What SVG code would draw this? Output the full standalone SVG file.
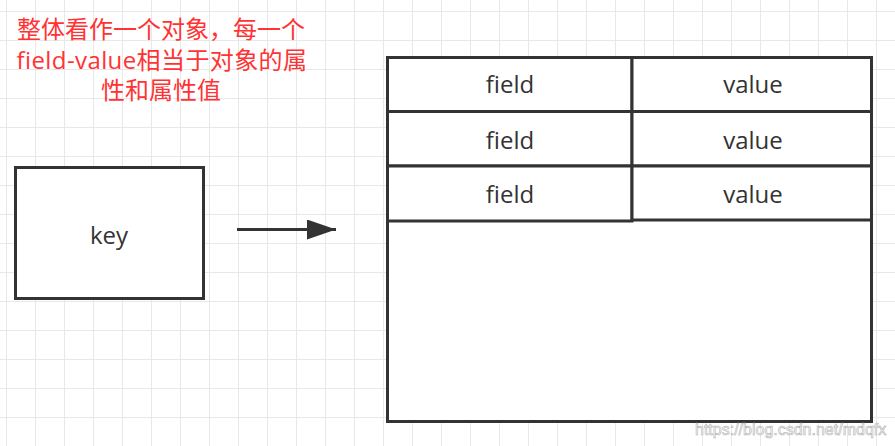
<svg xmlns="http://www.w3.org/2000/svg" width="895" height="446" viewBox="0 0 895 446">
<style>
.box{fill:#fff;stroke:#333;stroke-width:3}
.lbl{font-family:"Open Sans","Noto Sans CJK SC",sans-serif;font-size:24px;fill:#333;text-anchor:middle}
.note{font-family:"Open Sans","Noto Sans CJK SC",sans-serif;font-size:24px;fill:#ff3333;text-anchor:middle}
.wm{font-family:"Liberation Sans",sans-serif;font-size:16px;fill:#fff;stroke:#b0b0b0;stroke-width:0.6}
</style>
<defs>
<pattern id="grid" patternUnits="userSpaceOnUse" x="6" y="11" width="29" height="29">
<path d="M0 0.5H29M0.5 0V29" fill="none" stroke="#e8e8e8" stroke-width="1"/>
</pattern>
<marker id="arrow" markerUnits="userSpaceOnUse" markerWidth="30" markerHeight="22" refX="29" refY="10" orient="auto">
<path d="M0 0L29 10L0 20Z" fill="#333"/>
</marker>
</defs>
<rect width="895" height="446" fill="#fff"/>
<rect width="895" height="446" fill="url(#grid)"/>
<g id="note">
<text class="note" x="161" y="38">整体看作一个对象，每一个</text>
<text class="note" x="162" y="68.5" letter-spacing="0.4">field-value相当于对象的属</text>
<text class="note" x="161" y="99">性和属性值</text>
</g>
<g id="key">
<rect class="box" x="15.5" y="167.5" width="188" height="131"/>
<text class="lbl" x="109" y="244">key</text>
</g>
<g id="hash">
<rect class="box" x="387.5" y="57.5" width="484" height="364"/>
</g>
<g id="field1">
<rect class="box" x="387.5" y="57.5" width="244.5" height="54"/>
<text class="lbl" x="510" y="93">field</text>
</g>
<g id="value1">
<rect class="box" x="632" y="57.5" width="239.5" height="54"/>
<text class="lbl" x="753" y="93">value</text>
</g>
<g id="field2">
<rect class="box" x="387.5" y="111.5" width="244.5" height="54.5"/>
<text class="lbl" x="510" y="149">field</text>
</g>
<g id="value2">
<rect class="box" x="632" y="111.5" width="239.5" height="54.5"/>
<text class="lbl" x="753" y="149">value</text>
</g>
<g id="field3">
<rect class="box" x="387.5" y="166" width="244.5" height="55"/>
<text class="lbl" x="510" y="203">field</text>
</g>
<g id="value3">
<rect class="box" x="632" y="166" width="239.5" height="54"/>
<text class="lbl" x="753" y="203">value</text>
</g>
<g id="connectors">
<line x1="237" y1="229.5" x2="336" y2="229.5" stroke="#333" stroke-width="3" marker-end="url(#arrow)"/>
</g>
<text class="wm" x="695" y="435">https://blog.csdn.net/mdqfx</text>
</svg>
